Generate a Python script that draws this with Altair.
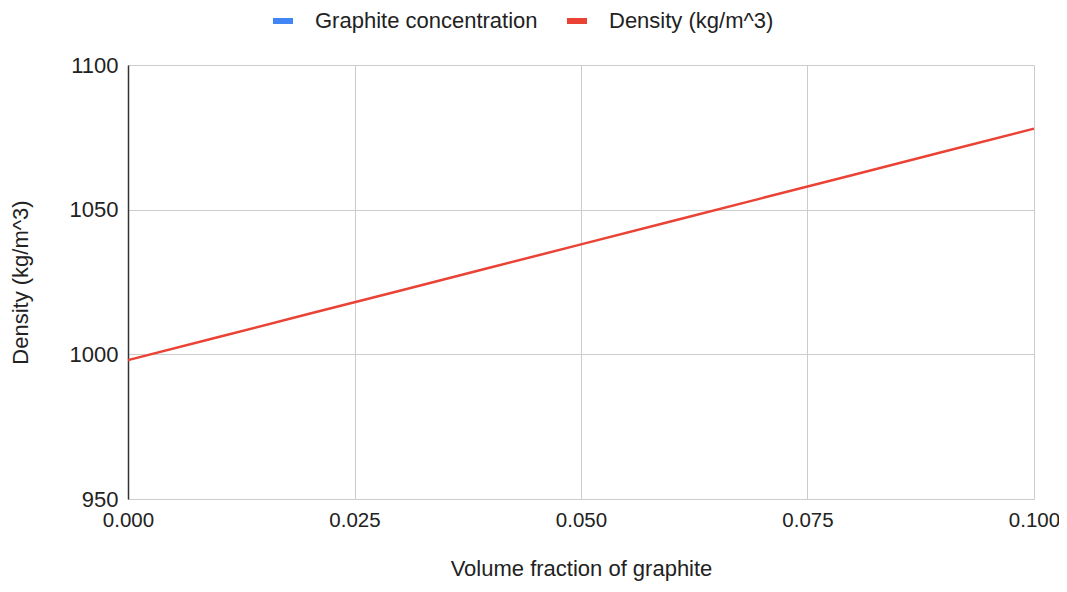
import altair as alt
import pandas as pd

volume_fraction = [0.0, 0.01, 0.02, 0.03, 0.04, 0.05, 0.06, 0.07, 0.08, 0.09, 0.1]
density = [998, 1006, 1014, 1022, 1030, 1038, 1046, 1054, 1062, 1070, 1078]
series_names = ["Graphite concentration", "Density (kg/m^3)"]
series_colors = ["#4285f4", "#ea4335"]

df = pd.DataFrame({
    "x": volume_fraction,
    "y": density,
    "series": ["Density (kg/m^3)"] * len(volume_fraction),
})

font = "Liberation Sans"
fs = 22
fsx = 20.5

chart = alt.Chart(df).mark_line(strokeWidth=2.5).encode(
    x=alt.X("x:Q", scale=alt.Scale(domain=[0, 0.1], nice=False),
            axis=alt.Axis(title="Volume fraction of graphite", values=[0, 0.025, 0.05, 0.075, 0.1],
                          format=".3f", domain=False, ticks=False, labelPadding=11, labelFlush=False,
                          titlePadding=28, labelFontSize=fsx, titleFontSize=fs,
                          labelColor="#222", titleColor="#222", labelFont=font, titleFont=font,
                          titleFontWeight="normal", gridColor="#cccccc")),
    y=alt.Y("y:Q", scale=alt.Scale(domain=[950, 1100], nice=False, zero=False),
            axis=alt.Axis(title="Density (kg/m^3)", values=[950, 1000, 1050, 1100], format="d",
                          domain=True, domainColor="#333333", domainWidth=1.5, ticks=False,
                          labelPadding=10, titlePadding=37, labelFontSize=fs, titleFontSize=fs,
                          labelColor="#222", titleColor="#222", labelFont=font, titleFont=font,
                          titleFontWeight="normal", gridColor="#cccccc")),
    color=alt.Color("series:N", scale=alt.Scale(domain=series_names, range=series_colors),
                    legend=alt.Legend(title=None, orient="none", direction="horizontal",
                                      legendX=142, legendY=-57, labelLimit=0,
                                      symbolType="stroke", symbolSize=400, symbolStrokeWidth=6,
                                      labelFontSize=fs, labelFont=font, labelColor="#222",
                                      columnPadding=17, labelOffset=19)),
).properties(
    width=906, height=434,
    autosize=alt.AutoSizeParams(type="none"),
    padding={"left": 120, "top": 57, "right": 25, "bottom": 85},
).configure_view(stroke=None)

chart.save("out.html", embed_options={"renderer": "svg", "actions": False})
